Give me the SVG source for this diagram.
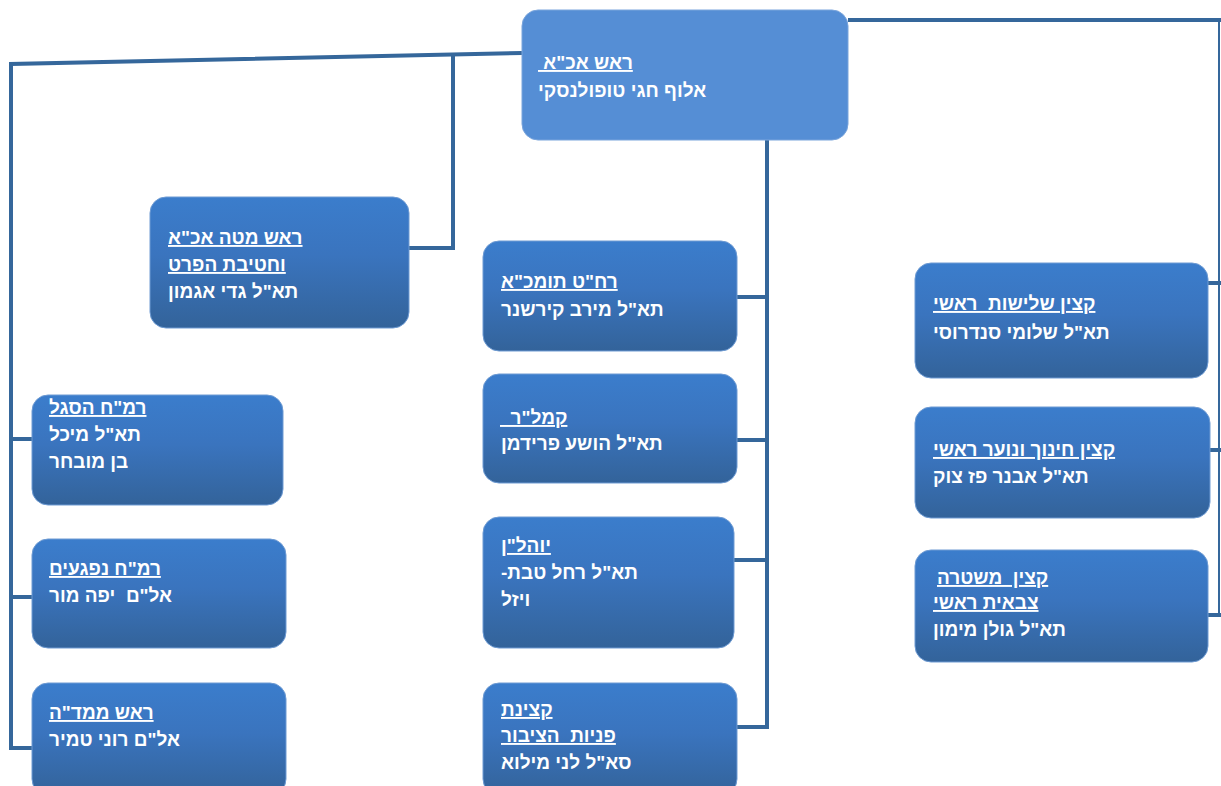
<svg xmlns="http://www.w3.org/2000/svg" width="1221" height="786" viewBox="0 0 1221 786">
<defs>
<linearGradient id="g" x1="0" y1="0" x2="0" y2="1">
<stop offset="0" stop-color="#3B7DCC"/>
<stop offset="0.45" stop-color="#3A74BE"/>
<stop offset="1" stop-color="#33639A"/>
</linearGradient>
<style>
.box{fill:url(#g);stroke:#6E9BD3;stroke-width:1}
.top{fill:#558ED5;stroke:#7AA5DC;stroke-width:1}
.t{font-family:"Liberation Sans","DejaVu Sans",Arial,sans-serif;font-weight:bold;font-size:19px;fill:#FFFFFF;direction:rtl;text-anchor:end;white-space:pre}
.u{text-decoration:underline}
.c{fill:none;stroke:#35679B;stroke-width:4}
.cn{fill:none;stroke:#35679B;stroke-width:2}
</style>
</defs>
<rect width="1221" height="786" fill="#FFFFFF"/>
<g id="connectors">
<path class="c" d="M522,53 L11,64 L11,748 L32,748"/>
<path class="c" d="M11,439 H32 M11,597 H32"/>
<path class="c" d="M453,55 V248 H409"/>
<path class="c" d="M767,140 V727 H720"/>
<path class="c" d="M737,297 H767 M737,440 H767 M734,560 H767"/>
<path class="c" d="M848,20 H1221"/>
<path class="cn" d="M1219,20 V617"/>
<path class="c" d="M1208,283 H1221 M1210,450 H1221 M1208,615 H1221"/>
</g>
<g id="n-top">
<rect class="top" x="522" y="10" width="326" height="130" rx="16"/>
<text class="t u" x="538" y="69">ראש אכ"א </text>
<text class="t" x="538" y="97">אלוף חגי טופולנסקי</text>
</g>
<g id="n-staff">
<rect class="box" x="150" y="197" width="259" height="131" rx="16"/>
<text class="t u" x="168" y="244">ראש מטה אכ"א</text>
<text class="t u" x="168" y="271">וחטיבת הפרט</text>
<text class="t" x="168" y="298">תא"ל גדי אגמון</text>
</g>
<g id="n-segel">
<rect class="box" x="32" y="395" width="251" height="110" rx="16"/>
<text class="t u" x="49" y="414">רמ"ח הסגל</text>
<text class="t" x="49" y="441">תא"ל מיכל</text>
<text class="t" x="49" y="468">בן מובחר</text>
</g>
<g id="n-nifgaim">
<rect class="box" x="32" y="539" width="254" height="109" rx="16"/>
<text class="t u" x="49" y="575">רמ"ח נפגעים</text>
<text class="t" x="49" y="602">אל"ם  יפה מור</text>
</g>
<g id="n-mamda">
<rect class="box" x="32" y="683" width="254" height="112" rx="16"/>
<text class="t u" x="49" y="719">ראש ממד"ה</text>
<text class="t" x="49" y="746">אל"ם רוני טמיר</text>
</g>
<g id="n-rahat">
<rect class="box" x="483" y="241" width="254" height="110" rx="16"/>
<text class="t u" x="501" y="288">רח"ט תומכ"א</text>
<text class="t" x="501" y="316">תא"ל מירב קירשנר</text>
</g>
<g id="n-kamlar">
<rect class="box" x="483" y="374" width="254" height="109" rx="16"/>
<text class="t u" x="500" y="424">קמל"ר  </text>
<text class="t" x="501" y="450">תא"ל הושע פרידמן</text>
</g>
<g id="n-yohalan">
<rect class="box" x="483" y="517" width="251" height="131" rx="16"/>
<text class="t u" x="501" y="552">יוהל"ן</text>
<text class="t" x="501" y="579">תא"ל רחל טבת-</text>
<text class="t" x="501" y="606">ויזל</text>
</g>
<g id="n-ktzinat">
<rect class="box" x="483" y="683" width="254" height="112" rx="16"/>
<text class="t u" x="501" y="716">קצינת</text>
<text class="t u" x="501" y="742">פניות  הציבור</text>
<text class="t" x="501" y="769">סא"ל לני מילוא</text>
</g>
<g id="n-shalishut">
<rect class="box" x="915" y="263" width="293" height="115" rx="16"/>
<text class="t u" x="933" y="310">קצין שלישות  ראשי</text>
<text class="t" x="933" y="339">תא"ל שלומי סנדרוסי</text>
</g>
<g id="n-hinuch">
<rect class="box" x="915" y="407" width="295" height="111" rx="16"/>
<text class="t u" x="933" y="456">קצין חינוך ונוער ראשי</text>
<text class="t" x="933" y="483">תא"ל אבנר פז צוק</text>
</g>
<g id="n-mishtara">
<rect class="box" x="915" y="550" width="293" height="112" rx="16"/>
<text class="t u" x="937" y="584">קצין  משטרה</text>
<text class="t u" x="933" y="609">צבאית ראשי</text>
<text class="t" x="933" y="636">תא"ל גולן מימון</text>
</g>
</svg>
